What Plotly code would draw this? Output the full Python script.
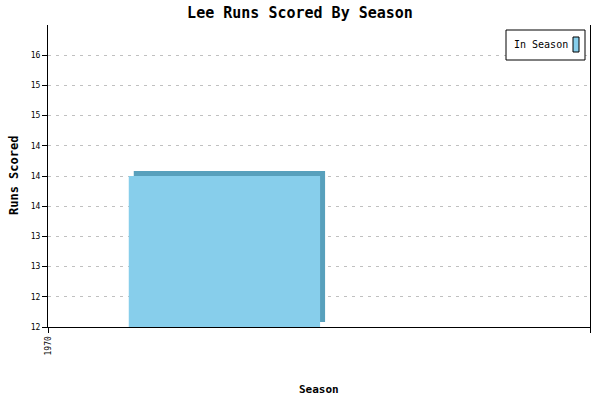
import plotly.graph_objects as go

# data
seasons = [1970]
runs = [14]
series_name = "In Season"
y_tickvals = [12.0, 12.4, 12.8, 13.2, 13.6, 14.0, 14.4, 14.8, 15.2, 15.6]
y_ticktext = ["12", "12", "13", "13", "14", "14", "14", "15", "15", "16"]

FRONT = "#87ceeb"
SIDE = "#58a0bc"
MONO = "DejaVu Sans Mono"

# plot area in px, used to place the fake 3d depth + legend box
L, R, T, B = 48, 10, 25, 73
W, H = 600 - L - R, 400 - T - B
y0, y1 = 12, 16
x0, x1 = 1970, 1971
bar_off, bar_w = 0.149, 0.353
depth_x = 5 / W * (x1 - x0)
depth_y = 5 / H * (y1 - y0)

def px(xp):
    return (xp - L) / W

def py(yp):
    return (400 - B - yp) / H

fig = go.Figure()

# back face (gives the 3d look)
fig.add_trace(go.Bar(
    x=seasons, y=[v - y0 for v in runs], base=y0 + depth_y,
    offset=bar_off + depth_x, width=bar_w,
    marker=dict(color=SIDE, line=dict(width=0)),
    showlegend=False, hoverinfo="skip"
))
# front face
fig.add_trace(go.Bar(
    x=seasons, y=[v - y0 for v in runs], base=y0,
    offset=bar_off, width=bar_w, name=series_name,
    marker=dict(color=FRONT, line=dict(width=0)),
    showlegend=False
))

fig.update_layout(
    width=600, height=400,
    margin=dict(l=L, r=R, t=T, b=B),
    paper_bgcolor="white", plot_bgcolor="white",
    font=dict(family=MONO, color="black"),
    title=dict(text="<b>Lee Runs Scored By Season</b>", x=0.5, xanchor="center",
               y=1 - 13 / 400, yanchor="middle", font=dict(size=15, family=MONO)),
    barmode="overlay",
    showlegend=False,
)

fig.update_xaxes(
    range=[x0, x1], tickvals=[x0, x1], ticktext=[str(seasons[0]), ""],
    tickangle=-90, ticks="outside", ticklen=5, tickcolor="black",
    tickfont=dict(size=8, family=MONO),
    showline=True, linecolor="black", linewidth=1,
    showgrid=False, zeroline=False, automargin=False
)
fig.update_yaxes(
    range=[y0, y1], tickvals=y_tickvals, ticktext=y_ticktext,
    ticks="outside", ticklen=5, tickcolor="black",
    tickfont=dict(size=8, family=MONO),
    showline=True, linecolor="black", linewidth=1, mirror=True,
    showgrid=True, gridcolor="#c0c0c0", griddash="3px,5px", gridwidth=1,
    zeroline=False, automargin=False
)

# axis titles
fig.add_annotation(text="<b>Season</b>", xref="paper", yref="paper", x=0.5, y=0,
                   yshift=-62, showarrow=False, yanchor="middle",
                   font=dict(size=11, family=MONO))
fig.add_annotation(text="<b>Runs Scored</b>", xref="paper", yref="paper", x=0, y=0.5,
                   xshift=-34, textangle=-90, showarrow=False, xanchor="center",
                   font=dict(size=12, family=MONO))

# legend box (swatch on the right like the original)
fig.add_shape(type="rect", xref="paper", yref="paper",
              x0=px(506), x1=px(585), y0=py(60), y1=py(30),
              line=dict(color="black", width=1), fillcolor="white")
fig.add_shape(type="rect", xref="paper", yref="paper",
              x0=px(573), x1=px(579), y0=py(52), y1=py(37),
              line=dict(color="black", width=1), fillcolor=FRONT)
fig.add_annotation(text=series_name, xref="paper", yref="paper", x=px(512), y=py(44),
                   xanchor="left", yanchor="middle", showarrow=False,
                   font=dict(size=10, family=MONO))

fig.write_html("out.html", config={"displayModeBar": False},
               post_script="document.body.style.margin='0';")
